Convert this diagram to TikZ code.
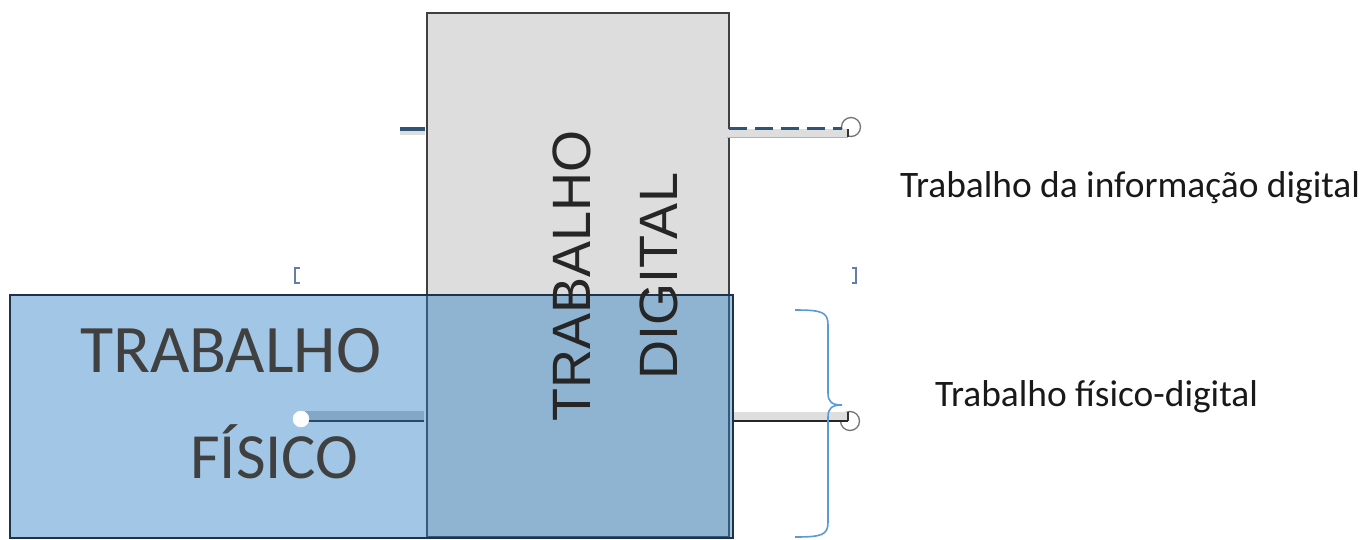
\documentclass[tikz,border=0pt]{standalone}
\usepackage{fontspec}
\setmainfont{Carlito}
\newfontfamily\arialfont{Liberation Sans}
\begin{document}
\begin{tikzpicture}[x=1pt,y=-1pt,
  boxline/.style={draw=black!75,line width=2pt},
  digitalbox/.style={boxline,fill=digigray},
  physbox/.style={draw=boxnavy,line width=2pt,fill=physblue,fill opacity=0.43},
  linkline/.style={draw=black!85,line width=1.6pt},
  dashlink/.style={draw=linkblue,line width=3pt,dash pattern=on 18pt off 8pt},
  handle/.style={circle,draw=black!55,fill=white,line width=1.3pt,minimum size=19pt,inner sep=0pt},
  whitehandle/.style={circle,draw=white,fill=white,minimum size=16pt,inner sep=0pt},
  bigword/.style={text=black!75,inner sep=0pt},
  label/.style={text=black!90,font=\fontsize{37.4}{37.4}\selectfont,inner sep=0pt},
  bracecolor/.style={draw=braceblue,line width=1.6pt},
  tickmark/.style={draw=tickblue,line width=1.6pt}]
\definecolor{digigray}{RGB}{221,221,221}
\definecolor{physblue}{RGB}{40,126,196}
\definecolor{boxnavy}{RGB}{30,50,75}
\definecolor{bandgray}{RGB}{222,222,222}
\definecolor{linkblue}{RGB}{47,84,118}
\definecolor{braceblue}{RGB}{91,155,213}
\definecolor{tickblue}{RGB}{96,128,170}

\useasboundingbox (0,0) rectangle (1363,539);

% digital work box
\draw[digitalbox] (427,13) rectangle (729,537);

% upper connector with its handle
\node[handle] (topend) at (851,127) {};
\fill[bandgray] (727,129) rectangle (848,137);
\draw[black!30,line width=0.6pt] (727,137) -- (848,137);
\draw[black!80,line width=1.2pt] (848,129) -- (848,137);
\coordinate (topstart) at (729,128);
\coordinate (topstop) at (842,128);
\draw[dashlink] (topstart) -- (topstop);
% short stub on the left of the digital box
\coordinate (stubA) at (400,129);
\coordinate (stubB) at (425,129);
\fill[bandgray] (400,130) rectangle (425,135);
\draw[linkblue,line width=3.5pt] (stubA) -- (stubB);

% lower connector, left part (under the physical box)
\coordinate (lowA) at (305,421);
\coordinate (lowB) at (424,421);
\fill[bandgray!90!black] (305,411) rectangle (424,420);
\draw[linkline] (lowA) -- (lowB);

% lower connector, right part with its handle
\node[handle] (lowend) at (850,421) {};
\fill[bandgray] (733,412) rectangle (848,420);
\coordinate (lowC) at (733,421);
\coordinate (lowD) at (848,421);
\draw[linkline] (lowC) -- (lowD);
\draw[black!80,line width=1.2pt] (848,412) -- (lowD);

% physical work box, translucent over the digital one
\draw[physbox] (10,295) rectangle (733,538);

% left handle of the lower connector
\node[whitehandle] (lowstart) at (301,419) {};

% box texts
\node[bigword,font=\fontsize{68}{68}\selectfont,anchor=base west] (trab) at (80,372) {TRABALHO};
\node[bigword,font=\fontsize{64.5}{64.5}\selectfont,anchor=base west] (fisico) at (190,478) {FÍSICO};
\node[rotate=90,align=center,text=black!85,inner sep=0pt,
      font=\arialfont\fontsize{54}{87}\selectfont] (digital) at (615,276)
      {TRABALHO\\DIGITAL};

% side labels
\node[label,anchor=base west] (lbltop) at (900,197) {Trabalho da informação digital};
\node[label,anchor=base west] (lblbot) at (935,406) {Trabalho físico-digital};

% curly brace spanning the physical-digital part
\coordinate (brtop) at (795,310);
\coordinate (brtip) at (842,405);
\coordinate (brbot) at (795,537);
\draw[bracecolor] (brtop) .. controls (822,310) and (828,312) .. (828,325)
  -- (828,393) .. controls (828,402) and (832,405) .. (brtip)
  .. controls (832,405) and (828,408) .. (828,417)
  -- (828,522) .. controls (828,535) and (822,537) .. (brbot);

% small selection ticks
\draw[tickmark] (300,268) -- (295,268) -- (295,283) -- (300,283);
\draw[tickmark] (852,268) -- (856,268) -- (856,283) -- (852,283);
\end{tikzpicture}
\end{document}
